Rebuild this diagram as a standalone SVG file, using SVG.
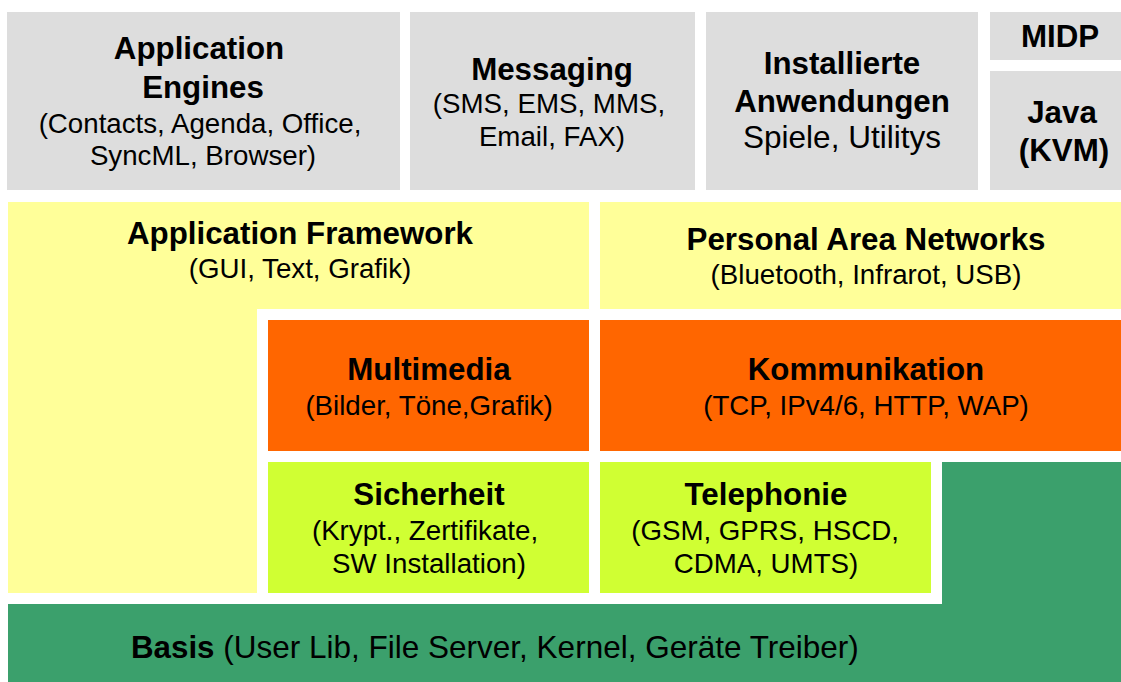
<svg xmlns="http://www.w3.org/2000/svg" width="1121" height="682" viewBox="0 0 1121 682">
<style>
text{font-family:"Liberation Sans",Arial,sans-serif;fill:#000;text-anchor:middle}
.b{font-weight:bold;font-size:31.3px}
.r{font-size:27.7px}
.rl{font-size:31.5px}
.grey{fill:#DDDDDD}
.yel{fill:#FFFF99}
.org{fill:#FF6600}
.lime{fill:#D0FF33}
.grn{fill:#3BA06C}
</style>
<rect width="1121" height="682" fill="#FFFFFF"/>
<g id="app-engines">
<rect class="grey" x="7" y="12" width="393" height="178"/>
<text class="b" x="199" y="59">Application</text>
<text class="b" x="203" y="98">Engines</text>
<text class="r" x="200" y="133">(Contacts, Agenda, Office,</text>
<text class="r" x="203" y="165">SyncML, Browser)</text>
</g>
<g id="messaging">
<rect class="grey" x="410" y="12" width="285" height="178"/>
<text class="b" x="552" y="80">Messaging</text>
<text class="r" x="549" y="113">(SMS, EMS, MMS,</text>
<text class="r" x="552" y="146">Email, FAX)</text>
</g>
<g id="installierte">
<rect class="grey" x="706" y="12" width="272" height="178"/>
<text class="b" x="842" y="74">Installierte</text>
<text class="b" x="842" y="112">Anwendungen</text>
<text class="rl" x="842" y="148">Spiele, Utilitys</text>
</g>
<g id="midp">
<rect class="grey" x="990" y="12" width="131" height="48"/>
<text class="b" x="1060" y="47">MIDP</text>
</g>
<g id="java">
<rect class="grey" x="990" y="71" width="131" height="119"/>
<text class="b" x="1062" y="123">Java</text>
<text class="b" x="1064" y="161">(KVM)</text>
</g>
<g id="app-framework">
<path class="yel" d="M8,202H589V309H257V593H8Z"/>
<text class="b" x="300" y="244">Application Framework</text>
<text class="r" x="300" y="278">(GUI, Text, Grafik)</text>
</g>
<g id="pan">
<rect class="yel" x="600" y="202" width="521" height="107"/>
<text class="b" x="866" y="250">Personal Area Networks</text>
<text class="r" x="866" y="284">(Bluetooth, Infrarot, USB)</text>
</g>
<g id="multimedia">
<rect class="org" x="268" y="320" width="321" height="131"/>
<text class="b" x="429" y="380">Multimedia</text>
<text class="r" x="429" y="415">(Bilder, Töne,Grafik)</text>
</g>
<g id="kommunikation">
<rect class="org" x="600" y="320" width="521" height="131"/>
<text class="b" x="866" y="380">Kommunikation</text>
<text class="r" x="866" y="415">(TCP, IPv4/6, HTTP, WAP)</text>
</g>
<g id="sicherheit">
<rect class="lime" x="268" y="462" width="321" height="131"/>
<text class="b" x="429" y="505">Sicherheit</text>
<text class="r" x="425" y="540">(Krypt., Zertifikate,</text>
<text class="r" x="429" y="573">SW Installation)</text>
</g>
<g id="telephonie">
<rect class="lime" x="600" y="462" width="331" height="131"/>
<text class="b" x="766" y="505">Telephonie</text>
<text class="r" x="765" y="540">(GSM, GPRS, HSCD,</text>
<text class="r" x="766" y="573">CDMA, UMTS)</text>
</g>
<g id="basis">
<path class="grn" d="M8,604H942V462H1121V682H8Z"/>
<text x="131" y="658" style="text-anchor:start"><tspan class="b">Basis</tspan><tspan class="rl"> (User Lib, File Server, Kernel, Geräte Treiber)</tspan></text>
</g>
<g id="connectors"/>
</svg>
